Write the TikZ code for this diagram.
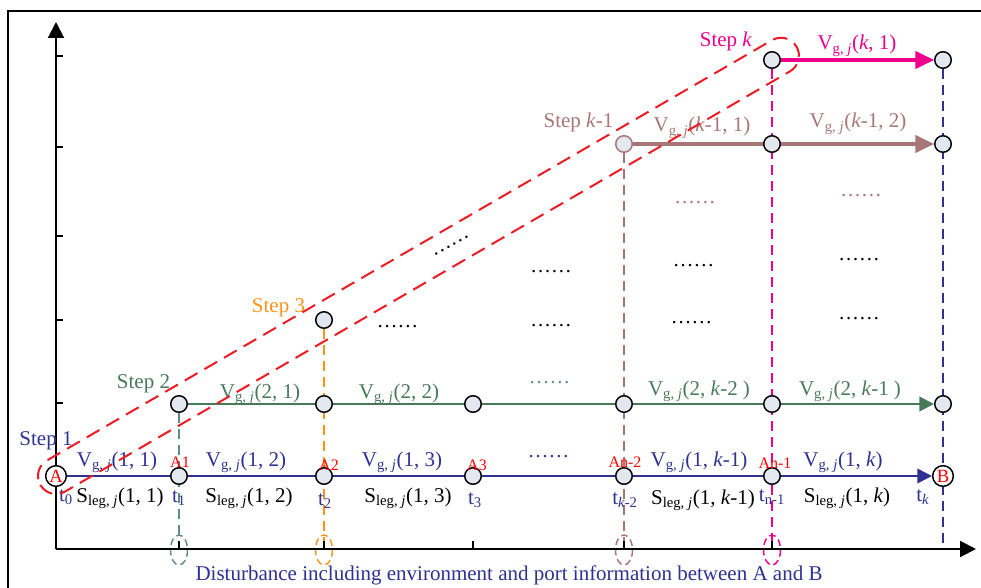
\documentclass[tikz,border=0pt]{standalone}
\usepackage{fontspec}
\setmainfont{Liberation Serif}
\usetikzlibrary{arrows.meta}
\pgfdeclarelayer{bg}
\pgfsetlayers{bg,main}
\definecolor{cnavy}{RGB}{46,49,146}
\definecolor{cgreen}{RGB}{72,122,90}
\definecolor{cteal}{RGB}{95,140,138}
\definecolor{corange}{RGB}{247,148,29}
\definecolor{cmauve}{RGB}{168,118,118}
\definecolor{cmag}{RGB}{236,0,140}
\definecolor{cred}{RGB}{237,28,36}
\definecolor{cfill}{RGB}{226,231,240}
\newcommand{\VgLab}{V\textsubscript{g, \textit{j}}}
\newcommand{\SlegLab}{S\textsubscript{leg, \textit{j}}}
\begin{document}
\begin{tikzpicture}[x=0.75pt,y=-0.75pt,
  lbl/.style={font=\fontsize{15.75}{18}\selectfont, inner sep=0pt, anchor=base},
  alab/.style={font=\fontsize{12}{14}\selectfont, text=red, inner sep=0pt, anchor=base},
  dotlbl/.style={font=\fontsize{15.5}{18}\selectfont, inner sep=0pt, anchor=base},
  pnode/.style={circle, draw=black, fill=cfill, line width=1.1pt, minimum size=12.4pt, inner sep=0pt},
  endnode/.style={circle, draw=black, fill=white, line width=1.1pt, minimum size=15.5pt, inner sep=0pt, text=red, font=\fontsize{14}{14}\selectfont},
  vdash/.style={line width=1.1pt, dash pattern=on 7.5pt off 4.5pt},
  edash/.style={line width=1.1pt, dash pattern=on 5pt off 3pt},
  tipS/.style={-{Triangle[length=11pt,width=11pt]}},
  tipL/.style={-{Triangle[length=14pt,width=13pt]}},
  axisline/.style={line width=1.5pt, -{Triangle[length=12pt,width=12pt]}},
  capsule/.style={cred, line width=1.5pt, dash pattern=on 11pt off 6pt, rounded corners=13.5pt}
]
\useasboundingbox (0,0) rectangle (981,588);
% frame
\draw[line width=1.2pt] (8,588) -- (8,11) -- (981,11);
% axes
\coordinate (O) at (56,549);
\coordinate (ytop) at (56,22);
\coordinate (xend) at (976,549);
\draw[axisline] (O) -- (ytop);
\draw[axisline] (O) -- (xend);
\foreach \yy in {56,147,236,320,403} \draw[line width=1.1pt] (56,\yy) -- (63,\yy);
\foreach \xx in {179,324,473,624,772} \draw[line width=1.1pt] (\xx,549) -- (\xx,541);

% nodes row 1
\node[endnode] (A) at (56,476) {A};
\node[pnode] (a1) at (179,476) {};
\node[pnode] (a2) at (324,476) {};
\node[pnode] (a3) at (473,476) {};
\node[pnode] (an2) at (624,476) {};
\node[pnode] (an1) at (772,476) {};
\node[endnode] (B) at (943,476) {B};
% row 2
\node[pnode] (b1) at (179,404) {};
\node[pnode] (b2) at (324,404) {};
\node[pnode] (b3) at (473,404) {};
\node[pnode] (b4) at (624,404) {};
\node[pnode] (b5) at (772,404) {};
\node[pnode] (b6) at (943,404) {};
% step 3
\node[pnode] (s3) at (324,320) {};
% row k-1
\node[pnode, draw=cmauve] (c1) at (624,144) {};
\node[pnode] (c2) at (772,144) {};
\node[pnode] (c3) at (943,144) {};
% row k
\node[pnode] (d1) at (772,60) {};
\node[pnode] (d2) at (943,60) {};

% bottom coordinates
\coordinate (e1) at (179,550);
\coordinate (e2) at (324,550);
\coordinate (e4) at (624,550);
\coordinate (e5) at (772,550);
\coordinate (e6) at (943,549);

\begin{pgfonlayer}{bg}
\draw[cteal, vdash] (b1) -- (e1);
\draw[corange, vdash] (s3) -- (e2);
\draw[cmauve, vdash] (c1) -- (e4);
\draw[cmag, vdash] (d1) -- (e5);
\draw[cnavy, vdash] (d2) -- (e6);
\draw[cteal, edash] (e1) ellipse [x radius=8.5, y radius=15];
\draw[corange, edash] (e2) ellipse [x radius=8.5, y radius=15];
\draw[cmauve, edash] (e4) ellipse [x radius=8.5, y radius=15];
\draw[cmag, edash] (e5) ellipse [x radius=8.5, y radius=15];
% flows
\draw[cnavy, line width=1.4pt] (A) -- (a1);
\draw[cnavy, line width=1.4pt] (a1) -- (a2);
\draw[cnavy, line width=1.4pt] (a2) -- (a3);
\draw[cnavy, line width=1.4pt] (a3) -- (an2);
\draw[cnavy, line width=1.4pt] (an2) -- (an1);
\draw[cnavy, line width=1.4pt, tipS] (an1) -- (B);
\draw[cgreen, line width=1.5pt] (b1) -- (b2);
\draw[cgreen, line width=1.5pt] (b2) -- (b3);
\draw[cgreen, line width=1.5pt] (b3) -- (b4);
\draw[cgreen, line width=1.5pt] (b4) -- (b5);
\draw[cgreen, line width=1.5pt, tipS] (b5) -- (b6);
\draw[cmauve, line width=2.5pt] (c1) -- (c2);
\draw[cmauve, line width=2.5pt, tipL] (c2) -- (c3);
\draw[cmag, line width=2.5pt, tipL] (d1) -- (d2);
\end{pgfonlayer}

% step labels
\node[lbl, text=cnavy] (st1) at (46,445) {Step 1};
\node[lbl, text=cgreen] (st2) at (143.5,388) {Step 2};
\node[lbl, text=corange] (st3) at (278.5,312) {Step 3};
\node[lbl, text=cmauve] (stk1) at (578.5,128) {Step \textit{k}-1};
\node[lbl, text=cmag] (stk) at (726,47) {Step \textit{k}};

% row 1 labels
\node[lbl, text=cnavy] (v11) at (117,466) {\VgLab(1, 1)};
\node[lbl, text=cnavy] (v12) at (246,466) {\VgLab(1, 2)};
\node[lbl, text=cnavy] (v13) at (402,466) {\VgLab(1, 3)};
\node[lbl, text=cnavy] (v1k1) at (699,466) {\VgLab(1, \textit{k}-1)};
\node[lbl, text=cnavy] (v1k) at (843,466) {\VgLab(1, \textit{k})};
\node[alab] (la1) at (180,467) {A1};
\node[alab] (la2) at (329,470) {A2};
\node[alab] (la3) at (477,470) {A3};
\node[alab] (lan2) at (625,467) {An-2};
\node[alab] (lan1) at (775,468) {An-1};
\node[lbl] (s11) at (120,502) {\SlegLab(1, 1)};
\node[lbl] (s12) at (249,502) {\SlegLab(1, 2)};
\node[lbl] (s13) at (408,502) {\SlegLab(1, 3)};
\node[lbl] (s1k1) at (703,504) {\SlegLab(1, \textit{k}-1)};
\node[lbl] (s1k) at (847,502) {\SlegLab(1, \textit{k})};
\node[lbl, text=cnavy] (t0) at (66,501) {t\textsubscript{0}};
\node[lbl, text=cnavy] (t1) at (179,502) {t\textsubscript{1}};
\node[lbl, text=cnavy] (t2) at (325,505) {t\textsubscript{2}};
\node[lbl, text=cnavy] (t3) at (475,504) {t\textsubscript{3}};
\node[lbl, text=cnavy] (tk2) at (625,504) {t\textsubscript{\textit{k}-2}};
\node[lbl, text=cnavy] (tn1) at (772,501) {t\textsubscript{n-1}};
\node[lbl, text=cnavy] (tk) at (923,501) {t\textsubscript{\textit{k}}};

% row 2 labels
\node[lbl, text=cgreen] (v21) at (260,398) {\VgLab(2, 1)};
\node[lbl, text=cgreen] (v22) at (399,398) {\VgLab(2, 2)};
\node[lbl, text=cgreen] (v2k2) at (699,395) {\VgLab(2, \textit{k}-2 )};
\node[lbl, text=cgreen] (v2k1) at (850,395) {\VgLab(2, \textit{k}-1 )};

% row k-1 and k labels
\node[lbl, text=cmauve] (vk11) at (702,132) {\VgLab(\textit{k}-1, 1)};
\node[lbl, text=cmauve] (vk12) at (858,128) {\VgLab(\textit{k}-1, 2)};
\node[lbl, text=cmag] (vk1) at (857,50) {\VgLab(\textit{k}, 1)};

% dots
\node[dotlbl, text=cnavy] (dt1) at (548.5,457) {……};
\node[dotlbl, text=cteal] (dt2) at (549.5,383) {……};
\node[dotlbl, text=cmauve] (dt3) at (695,204) {……};
\node[dotlbl, text=cmauve] (dt4) at (861,196) {……};
\node[dotlbl] (dt5) at (693.5,266) {……};
\node[dotlbl] (dt6) at (859,260) {……};
\node[dotlbl] (dt7) at (691.5,323) {……};
\node[dotlbl] (dt8) at (859,319) {……};
\node[dotlbl] (dt9) at (551,272) {……};
\node[dotlbl] (dt10) at (397.5,327) {……};
\node[dotlbl] (dt11) at (551,326) {……};
\node[font=\fontsize{15.5}{18}\selectfont, inner sep=0pt, rotate=29] (dt12) at (451.5,246) {……};

% bottom caption
\node[lbl, text=cnavy] (cap) at (509,580) {Disturbance including environment and port information between A and B};

% red capsule
\begin{scope}[shift={(56,476)}, rotate=30.1]
\draw[capsule] (-18,-18) rectangle (856,18);
\end{scope}
\end{tikzpicture}
\end{document}
